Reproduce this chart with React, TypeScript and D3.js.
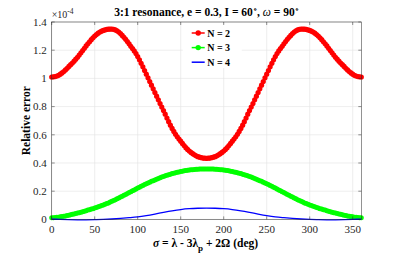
import { useMemo } from "react";
import * as d3 from "d3";

// sigma (deg) for the marker series, 2 deg steps
const sigma2 = d3.range(0, 361, 2);

// relative error, units of 1e-4
const errN2 = [
  1.01, 1.011, 1.013, 1.017, 1.022, 1.03, 1.039, 1.049, 1.06, 1.072,
  1.085, 1.097, 1.109, 1.122, 1.136, 1.15, 1.166, 1.182, 1.198, 1.214,
  1.23, 1.245, 1.26, 1.275, 1.288, 1.3, 1.311, 1.321, 1.329, 1.335,
  1.34, 1.344, 1.347, 1.349, 1.35, 1.35, 1.348, 1.344, 1.338, 1.329,
  1.318, 1.305, 1.292, 1.277, 1.261, 1.245, 1.228, 1.212, 1.195, 1.176,
  1.155, 1.132, 1.107, 1.082, 1.056, 1.03, 1.004, 0.978, 0.952, 0.926,
  0.9, 0.874, 0.848, 0.822, 0.797, 0.772, 0.746, 0.719, 0.693, 0.668,
  0.645, 0.624, 0.604, 0.586, 0.57, 0.555, 0.539, 0.524, 0.509, 0.496,
  0.485, 0.475, 0.466, 0.458, 0.451, 0.445, 0.441, 0.438, 0.435, 0.434,
  0.433,
  0.434, 0.435, 0.438, 0.441, 0.445, 0.451, 0.458, 0.466, 0.475, 0.485,
  0.496, 0.509, 0.524, 0.539, 0.555, 0.57, 0.586, 0.604, 0.624, 0.645,
  0.668, 0.693, 0.719, 0.746, 0.772, 0.797, 0.822, 0.848, 0.874, 0.9,
  0.926, 0.952, 0.978, 1.004, 1.03, 1.056, 1.082, 1.107, 1.132, 1.155,
  1.176, 1.195, 1.212, 1.228, 1.245, 1.261, 1.277, 1.292, 1.305, 1.318,
  1.329, 1.338, 1.344, 1.348, 1.35, 1.35, 1.349, 1.347, 1.344, 1.34,
  1.335, 1.329, 1.321, 1.311, 1.3, 1.288, 1.275, 1.26, 1.245, 1.23,
  1.214, 1.198, 1.182, 1.166, 1.15, 1.136, 1.122, 1.109, 1.097, 1.085,
  1.072, 1.06, 1.049, 1.039, 1.03, 1.022, 1.017, 1.013, 1.011, 1.01,
];

const errN3 = [
  0.012, 0.012, 0.013, 0.015, 0.016, 0.018, 0.02, 0.022, 0.024, 0.027,
  0.03, 0.033, 0.036, 0.039, 0.042, 0.045, 0.048, 0.051, 0.055, 0.058,
  0.062, 0.066, 0.069, 0.073, 0.076, 0.08, 0.084, 0.089, 0.093, 0.098,
  0.102, 0.107, 0.112, 0.117, 0.123, 0.128, 0.134, 0.14, 0.146, 0.152,
  0.158, 0.164, 0.171, 0.177, 0.184, 0.19, 0.196, 0.203, 0.209, 0.216,
  0.222, 0.228, 0.235, 0.241, 0.247, 0.253, 0.259, 0.264, 0.27, 0.275,
  0.28, 0.285, 0.29, 0.295, 0.3, 0.305, 0.309, 0.313, 0.317, 0.321,
  0.325, 0.328, 0.331, 0.334, 0.337, 0.34, 0.342, 0.345, 0.347, 0.349,
  0.35, 0.352, 0.353, 0.354, 0.355, 0.356, 0.357, 0.357, 0.358, 0.358,
  0.358,
  0.358, 0.358, 0.357, 0.357, 0.356, 0.355, 0.354, 0.353, 0.352, 0.35,
  0.349, 0.347, 0.345, 0.342, 0.34, 0.337, 0.334, 0.331, 0.328, 0.325,
  0.321, 0.317, 0.313, 0.309, 0.305, 0.3, 0.295, 0.29, 0.285, 0.28,
  0.275, 0.27, 0.264, 0.259, 0.253, 0.247, 0.241, 0.235, 0.228, 0.222,
  0.216, 0.209, 0.203, 0.196, 0.19, 0.184, 0.177, 0.171, 0.164, 0.158,
  0.152, 0.146, 0.14, 0.134, 0.128, 0.123, 0.117, 0.112, 0.107, 0.102,
  0.098, 0.093, 0.089, 0.084, 0.08, 0.076, 0.073, 0.069, 0.066, 0.062,
  0.058, 0.055, 0.051, 0.048, 0.045, 0.042, 0.039, 0.036, 0.033, 0.03,
  0.027, 0.024, 0.022, 0.02, 0.018, 0.016, 0.015, 0.013, 0.012, 0.012,
];

// N = 4 is a plain line, 10 deg steps
const sigma10 = [
  0, 10, 20, 30, 40, 50, 60, 70, 80, 90, 100, 110, 120, 130, 140, 150, 160, 170,
  180, 190, 200, 210, 220, 230, 240, 250, 260, 270, 280, 290, 300, 310, 320, 330,
  340, 350, 360,
];
const errN4 = [
  0.002, 0.0, -0.002, -0.003, -0.003, -0.002, 0.0, 0.003, 0.007, 0.012, 0.018,
  0.027, 0.038, 0.05, 0.061, 0.07, 0.076, 0.079, 0.08, 0.079, 0.076, 0.07, 0.061,
  0.05, 0.038, 0.027, 0.018, 0.012, 0.007, 0.003, 0.0, -0.002, -0.003, -0.003,
  -0.002, 0.0, 0.002,
];

const xTicks = [0, 50, 100, 150, 200, 250, 300, 350];
const yTicks = [0, 0.2, 0.4, 0.6, 0.8, 1, 1.2, 1.4];
const legendLabels = ["N = 2", "N = 3", "N = 4"];

const W = 399;
const H = 255;
const margin = { left: 51.7, right: 37.7, top: 22, bottom: 35.6 };
const FONT = "'Liberation Serif', 'DejaVu Serif', serif";
const AX = "#262626";

export default function App() {
  const iw = W - margin.left - margin.right;
  const ih = H - margin.top - margin.bottom;
  const x = useMemo(() => d3.scaleLinear().domain([0, 360]).range([0, iw]), [iw]);
  const y = useMemo(() => d3.scaleLinear().domain([0, 1.4]).range([ih, 0]), [ih]);

  const line = d3
    .line<[number, number]>()
    .x((d) => x(d[0]))
    .y((d) => y(d[1]));
  const smooth = d3
    .line<[number, number]>()
    .x((d) => x(d[0]))
    .y((d) => y(d[1]))
    .curve(d3.curveMonotoneX);

  const s2 = sigma2.map((s, i) => [s, errN2[i]] as [number, number]);
  const s3 = sigma2.map((s, i) => [s, errN3[i]] as [number, number]);
  const s4 = sigma10.map((s, i) => [s, errN4[i]] as [number, number]);

  const series = [
    { color: "#ff0000", marker: true },
    { color: "#00ff00", marker: true },
    { color: "#0000ff", marker: false },
  ];

  const tick = 3;

  return (
    <svg
      width={W}
      height={H}
      style={{ position: "absolute", left: 0, top: 0, background: "#fff" }}
      fontFamily={FONT}
    >
      <rect width={W} height={H} fill="#fff" />
      <g transform={`translate(${margin.left},${margin.top})`}>
        {/* grid */}
        {xTicks.map((t) => (
          <line key={`gx${t}`} x1={x(t)} x2={x(t)} y1={0} y2={ih} stroke="#e3e3e3" strokeWidth={0.6} />
        ))}
        {yTicks.map((t) => (
          <line key={`gy${t}`} x1={0} x2={iw} y1={y(t)} y2={y(t)} stroke="#e3e3e3" strokeWidth={0.6} />
        ))}

        {/* legend background hides grid behind it */}
        <rect x={131} y={2} width={59} height={44} fill="#fff" />

        {/* data */}
        <g>
          <path d={line(s3) ?? ""} fill="none" stroke="#00ff00" strokeWidth={1} />
          {s3.map((d, i) => (
            <circle key={`g${i}`} cx={x(d[0])} cy={y(d[1])} r={2.5} fill="#00ff00" />
          ))}
          <path d={smooth(s4) ?? ""} fill="none" stroke="#0000ff" strokeWidth={1.3} />
          <path d={line(s2) ?? ""} fill="none" stroke="#ff0000" strokeWidth={1} />
          {s2.map((d, i) => (
            <circle key={`r${i}`} cx={x(d[0])} cy={y(d[1])} r={2.6} fill="#ff0000" />
          ))}
        </g>

        {/* box + ticks */}
        <rect x={0} y={0} width={iw} height={ih} fill="none" stroke={AX} strokeWidth={0.5} />
        {xTicks.map((t) => (
          <g key={`tx${t}`}>
            <line x1={x(t)} x2={x(t)} y1={ih} y2={ih - tick} stroke={AX} strokeWidth={0.5} />
            <line x1={x(t)} x2={x(t)} y1={0} y2={tick} stroke={AX} strokeWidth={0.5} />
            <text x={x(t)} y={ih + 13.5} textAnchor="middle" fontSize={11} fill={AX}>
              {t}
            </text>
          </g>
        ))}
        {yTicks.map((t) => (
          <g key={`ty${t}`}>
            <line x1={0} x2={tick} y1={y(t)} y2={y(t)} stroke={AX} strokeWidth={0.5} />
            <line x1={iw} x2={iw - tick} y1={y(t)} y2={y(t)} stroke={AX} strokeWidth={0.5} />
            <text x={-5} y={y(t) + 3.8} textAnchor="end" fontSize={11} fill={AX}>
              {d3.format("~g")(t)}
            </text>
          </g>
        ))}

        {/* exponent */}
        <text x={0} y={-4} fontSize={10} fill={AX}>
          ×10
          <tspan fontSize={7.5} dy={-4}>
            -4
          </tspan>
        </text>

        {/* legend */}
        {legendLabels.map((lab, i) => {
          const ly = 11 + i * 14.6;
          const s = series[i];
          return (
            <g key={lab} transform={`translate(140,${ly})`}>
              <line x1={0} x2={13} y1={0} y2={0} stroke={s.color} strokeWidth={1.5} />
              {s.marker && <circle cx={6.5} cy={0} r={2.7} fill={s.color} />}
              <text x={15.5} y={3.6} fontSize={10} fontWeight="bold" fill="#000">
                {lab}
              </text>
            </g>
          );
        })}
      </g>

      {/* title */}
      <text x={206.5} y={16} textAnchor="middle" fontSize={11.5} fontWeight="bold" fill="#000">
        3:1 resonance, e = 0.3, I = 60
        <tspan fontSize={8} dy={-4}>
          ∘
        </tspan>
        <tspan dy={4}>, </tspan>
        <tspan fontStyle="italic" fontWeight="normal">
          ω
        </tspan>
        <tspan> = 90</tspan>
        <tspan fontSize={8} dy={-4}>
          ∘
        </tspan>
      </text>

      {/* x label */}
      <text x={205.5} y={246.5} textAnchor="middle" fontSize={11.5} fontWeight="bold" fill="#000">
        <tspan fontStyle="italic">σ</tspan>
        <tspan> = λ - 3λ</tspan>
        <tspan fontSize={9} dy={4}>
          p
        </tspan>
        <tspan dy={-4}> + 2Ω (deg)</tspan>
      </text>

      {/* y label */}
      <text
        transform={`translate(30,${margin.top + ih / 2}) rotate(-90)`}
        textAnchor="middle"
        fontSize={11.5}
        fontWeight="bold"
        fill="#000"
      >
        Relative error
      </text>
    </svg>
  );
}
